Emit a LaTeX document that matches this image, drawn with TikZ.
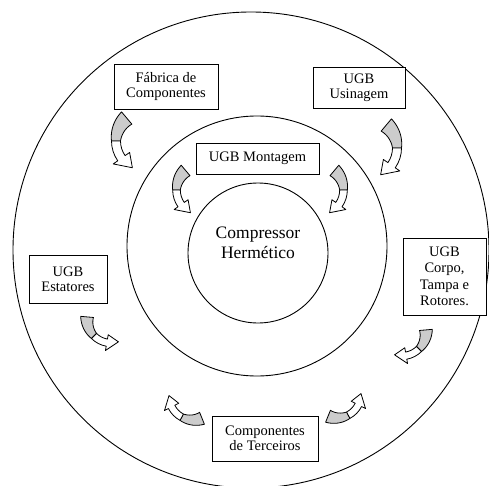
\documentclass[tikz,border=0pt]{standalone}
\usepackage{fontspec}
\setmainfont{Liberation Serif}
\tikzset{
  x=1pt, y=1pt,
  ring/.style={draw, line width=0.9pt},
  unit/.style={draw, line width=0.9pt, fill=white, align=center,
    inner sep=1pt, font=\fontsize{14.5}{15}\selectfont},
  tailpart/.style={draw, line width=0.8pt, fill=gray!40, line join=round},
  headpart/.style={draw, line width=0.8pt, fill=white, line join=round},
}
% curved twisted arrow: shaded tail, open head
\newcommand\twistarrow[1]{%
  \begin{scope}[#1]
    \filldraw[tailpart]
      plot[domain=130:180, samples=20]
        ({(30+8-3.5*(\x-130)/50)*cos(\x)}, {(30+8-3.5*(\x-130)/50)*sin(\x)})
      -- plot[domain=180:130, samples=20]
        ({(30-8+3.5*(\x-130)/50)*cos(\x)}, {(30-8+3.5*(\x-130)/50)*sin(\x)})
      -- cycle;
    \filldraw[headpart]
      (180:34.5) arc[start angle=180, end angle=215, radius=34.5]
      -- (215:40) -- (243:30) -- (215:20) -- (215:25.5)
      arc[start angle=215, end angle=180, radius=25.5] -- cycle;
  \end{scope}}
\begin{document}
\begin{tikzpicture}
\useasboundingbox (0,0) rectangle (489,-486);
\begin{scope}
\clip (0,0) rectangle (489,-486);
% three nested rings
\draw[ring] (251,-250) circle[radius=238];
\draw[ring] (257,-246) circle[radius=130];
\draw[ring] (258,-253) circle[radius=70];
\end{scope}

\node[font=\fontsize{17.5}{20}\selectfont, align=center] (core) at (258,-243)
  {Compressor\\Hermético};

% units
\node[unit, minimum width=104, minimum height=45] (fab) at (166,-86.5)
  {Fábrica de\\Componentes};
\node[unit, minimum width=92, minimum height=41] (usi) at (359,-87.5)
  {UGB\\Usinagem};
\node[unit, minimum width=123, minimum height=31] (mon) at (257.5,-158.5)
  {UGB Montagem};
\node[unit, minimum width=78, minimum height=48] (est) at (68,-279)
  {UGB\\Estatores};
\node[unit, minimum width=83, minimum height=77, font=\fontsize{14.5}{16.5}\selectfont] (cor) at (444.5,-276.5)
  {UGB\\Corpo,\\Tampa e\\Rotores.};
\node[unit, minimum width=106, minimum height=45] (ter) at (265,-438.5)
  {Componentes\\de Terceiros};

% flow arrows
\twistarrow{shift={(146,-141)}}
\twistarrow{shift={(367,-148)}, xscale=-1}
\twistarrow{shift={(202,-190)}, scale=0.85}
\twistarrow{shift={(318,-190)}, scale=0.85, xscale=-1}
\twistarrow{shift={(111,-319)}, scale=0.8, rotate=45}
\twistarrow{shift={(402,-332)}, scale=0.8, rotate=-45, xscale=-1}
\twistarrow{shift={(193,-396)}, scale=0.8, rotate=-118, xscale=-1}
\twistarrow{shift={(337,-394)}, scale=0.8, rotate=118}
\end{tikzpicture}
\end{document}
